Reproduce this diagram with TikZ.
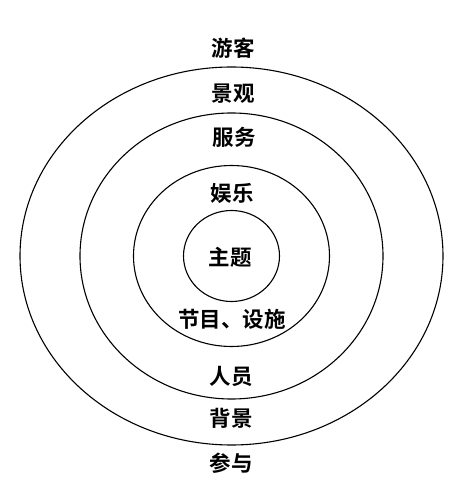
\documentclass[tikz,border=0pt]{standalone}
\usepackage{fontspec}
\newfontfamily\cjk{Noto Sans CJK SC}[BoldFont={Noto Sans CJK SC Bold}]
\tikzset{
  ring/.style={line width=1.1pt},
  lbl/.style={font=\cjk\bfseries\fontsize{21.5pt}{21.5pt}\selectfont, inner sep=0pt}
}
\begin{document}
\begin{tikzpicture}[x=1pt, y=1pt]
\useasboundingbox (0, 0) rectangle (466, 496);
\coordinate (O) at (231.5, 240);

\draw[ring] (O) ellipse [x radius=211.5, y radius=189];
\draw[ring] (O) ellipse [x radius=151.5, y radius=143];
\draw[ring] (O) ellipse [x radius=98, y radius=90.5];
\draw[ring] (O) ellipse [x radius=48, y radius=45.5];

\node[lbl] (youke) at (233, 448) {游客};
\node[lbl] (jingguan) at (233, 402) {景观};
\node[lbl] (fuwu) at (234, 359) {服务};
\node[lbl] (yule) at (232, 303) {娱乐};
\node[lbl] (zhuti) at (230, 239) {主题};
\node[lbl] (jiemu) at (232, 177) {节目、设施};
\node[lbl] (renyuan) at (231, 120) {人员};
\node[lbl] (beijing) at (231, 78) {背景};
\node[lbl] (canyu) at (231, 33) {参与};
\end{tikzpicture}
\end{document}
